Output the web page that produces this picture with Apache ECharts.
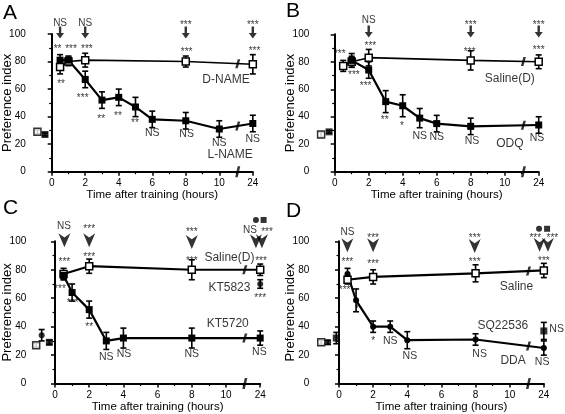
<!DOCTYPE html>
<html><head><meta charset="utf-8">
<script src="https://cdn.jsdelivr.net/npm/echarts@6/dist/echarts.min.js"></script>
<style>html,body{margin:0;padding:0;background:#fff}#c{width:565px;height:414px}</style>
</head><body><div id="c"></div><script>
// ===== DATA (time in hours; values = preference index, E = error) =====
// Panel A
const A_DNAME_T = [0.5, 1, 2, 8, 24];
const A_DNAME_V = [76, 80, 81, 80, 78];
const A_DNAME_E = [5, 3, 5, 4, 7];
const A_LNAME_T = [0.5, 1, 2, 3, 4, 5, 6, 8, 10, 24];
const A_LNAME_V = [81, 81, 67, 52, 54, 47, 38, 37, 31, 35];
const A_LNAME_E = [4, 3, 6, 6, 6, 7, 6, 6, 6, 6];
const A_BASE_V = [29, 27];
const A_BASE_E = [1.5, 1];
// Panel B
const B_SAL_T = [0.5, 1, 2, 8, 24];
const B_SAL_V = [77, 80, 83, 81, 80];
const B_SAL_E = [4, 4, 6, 7, 5];
const B_ODQ_T = [1, 2, 3, 4, 5, 6, 8, 24];
const B_ODQ_V = [81, 74, 51, 48, 39, 35, 33, 34];
const B_ODQ_E = [5, 6, 8, 8, 7, 6, 6, 6];
const B_BASE_V = [27, 29];
const B_BASE_E = [2, 1];
// Panel C
const C_SAL_T = [0.5, 2, 8, 24];
const C_SAL_V = [77, 82.5, 80, 80];
const C_SAL_E = [4, 5, 7, 4];
const C_KT5720_T = [0.5, 1, 2, 3, 4, 8, 24];
const C_KT5720_V = [76, 64, 52, 30, 32, 32, 32];
const C_KT5720_E = [3, 6, 6, 6, 7, 7, 5];
const C_KT5823_T = [24];
const C_KT5823_V = [70];
const C_KT5823_E = [3];
const C_BASE_V = [27, 34, 29];
const C_BASE_E = [1.5, 4, 1.5];
// Panel D
const D_SAL_T = [0.5, 2, 8, 24];
const D_SAL_V = [73, 75, 77.5, 79.5];
const D_SAL_E = [3, 5, 6, 5];
const D_DDA_T = [0.5, 1, 2, 3, 4, 8, 24];
const D_DDA_V = [77, 58.5, 40, 40, 30.5, 31, 25];
const D_DDA_E = [4, 8, 4, 4, 6, 4, 5];
const D_SQ_T = [24];
const D_SQ_V = [37];
const D_SQ_E = [6];
const D_BASE_V = [29, 29, 32];
const D_BASE_E = [1.5, 1.5, 4];
// Tick labels
const X_TICKS = [0, 2, 4, 6, 8, 10, 24];
const Y_TICKS = [0, 20, 40, 60, 80, 100];

// ===== helpers =====
const FONT = '"Liberation Sans", Arial, Helvetica, sans-serif';
const pos = t => t === 24 ? 12 : t;           // broken axis: 24 h drawn after 10 h
const BREAK_X = 11.1;
const SYM = {
  open:   {symbol: 'rect', symbolSize: 7, itemStyle: {color: '#fff', borderColor: '#000', borderWidth: 1.5}},
  filled: {symbol: 'rect', symbolSize: 7, itemStyle: {color: '#000'}},
  circle: {symbol: 'circle', symbolSize: 6, itemStyle: {color: '#000'}}
};
const ARROW = 'path://M3.5,0 L6.5,0 L6.5,7 L10,7 L5,13 L0,7 L3.5,7 Z';
const CHEV = 'path://M0,0 L5,4 L10,0 L5,13 Z';
const SLASH = 'path://M3,0 L6,0 L3,10 L0,10 Z';

function interpAt(T, V, x) {
  const P = T.map(pos);
  for (let i = 0; i < P.length - 1; i++) {
    if (P[i] <= x && x <= P[i + 1]) { const f = (x - P[i]) / (P[i + 1] - P[i]); return V[i] + f * (V[i + 1] - V[i]); }
  }
  return null;
}
function errRender(params, api) {
  const x = api.value(0), y = api.value(1), e = api.value(2);
  const t = api.coord([x, y + e]), b = api.coord([x, y - e]);
  const w = 3, st = {stroke: '#000', lineWidth: 1.6};
  return {type: 'group', children: [
    {type: 'line', shape: {x1: t[0], y1: t[1], x2: b[0], y2: b[1]}, style: st},
    {type: 'line', shape: {x1: t[0] - w, y1: t[1], x2: t[0] + w, y2: t[1]}, style: st},
    {type: 'line', shape: {x1: b[0] - w, y1: b[1], x2: b[0] + w, y2: b[1]}, style: st}
  ]};
}

// ===== layout / annotations =====
const panels = [
  {letter: 'A', lx: 3, ly: 3, X0: 51.7, U: 16.76, top: 34, bottom: 171.7, yAx: 31.8,
   groups: [
     {T: A_DNAME_T, V: A_DNAME_V, E: A_DNAME_E, sym: 'open', lw: 1.6, line: true},
     {T: A_LNAME_T, V: A_LNAME_V, E: A_LNAME_E, sym: 'filled', lw: 2.2, line: true}],
   base: [{x: -0.85, sym: 'open'}, {x: -0.4, sym: 'filled'}], baseV: A_BASE_V, baseE: A_BASE_E,
   arrowSym: ARROW, arrowSize: [8, 12],
   arrows: [[0.5, 101], [2, 101], [8, 101], [12, 101]],
   dots: [],
   texts: [['NS', 0.5, 108, 'top'], ['NS', 2, 108, 'top'], ['***', 8, 108, 'st'], ['***', 12, 108, 'st'],
     ['**', 0.35, 91, 'st'], ['***', 1.15, 91, 'st'], ['***', 2.1, 91, 'st'], ['***', 8.05, 88.5, 'st'], ['***', 12.1, 89, 'st'],
     ['**', 0.56, 65, 'st'], ['***', 1.85, 55, 'st'], ['**', 2.95, 40, 'st'], ['**', 3.95, 42, 'st'], ['**', 4.97, 37, 'st'],
     ['NS', 6, 28, 'ns'], ['NS', 8.05, 27, 'ns'], ['NS', 10, 21, 'ns'], ['NS', 12, 23.5, 'ns'],
     ['D-NAME', 10.4, 67, 'lab'], ['L-NAME', 10.65, 12, 'lab']]},
  {letter: 'B', lx: 286, ly: 1, X0: 334.7, U: 17.0, top: 34.3, bottom: 171.7, yAx: 315.3,
   groups: [
     {T: B_SAL_T, V: B_SAL_V, E: B_SAL_E, sym: 'open', lw: 1.6, line: true},
     {T: B_ODQ_T, V: B_ODQ_V, E: B_ODQ_E, sym: 'filled', lw: 2.2, line: true}],
   base: [{x: -0.8, sym: 'open'}, {x: -0.33, sym: 'filled'}], baseV: B_BASE_V, baseE: B_BASE_E,
   arrowSym: ARROW, arrowSize: [8, 12],
   arrows: [[2, 102], [8, 102], [12, 102]],
   dots: [],
   texts: [['NS', 2, 110, 'top'], ['***', 8, 108.5, 'st'], ['***', 12, 108.5, 'st'],
     ['***', 0.3, 87, 'st'], ['***', 1.13, 72, 'st'], ['***', 1.82, 64.3, 'st'], ['***', 2.1, 93, 'st'],
     ['**', 2.94, 39, 'st'], ['*', 3.96, 35, 'st'],
     ['NS', 5, 26, 'ns'], ['NS', 6, 25, 'ns'], ['NS', 8.08, 22, 'ns'], ['ODQ', 10.3, 20.6, 'lab'], ['NS', 11.9, 24.3, 'ns'],
     ['***', 7.94, 89, 'st'], ['***', 12, 90, 'st'], ['Saline(D)', 10.3, 68, 'lab']]},
  {letter: 'C', lx: 3, ly: 198, X0: 55, U: 17.1, top: 241.3, bottom: 383.6, yAx: 32.3,
   groups: [
     {T: C_SAL_T, V: C_SAL_V, E: C_SAL_E, sym: 'open', lw: 2.2, line: true},
     {T: C_KT5720_T, V: C_KT5720_V, E: C_KT5720_E, sym: 'filled', lw: 2.2, line: true},
     {T: C_KT5823_T, V: C_KT5823_V, E: C_KT5823_E, sym: 'circle', lw: 2, line: false}],
   base: [{x: -1.1, sym: 'open'}, {x: -0.78, sym: 'circle'}, {x: -0.33, sym: 'filled'}], baseV: C_BASE_V, baseE: C_BASE_E,
   arrowSym: CHEV, arrowSize: [12, 14],
   arrows: [[0.55, 100.7], [2, 100.7], [8, 99.5], [11.75, 100], [12.1, 100]],
   dots: [[11.75, 115, 'circle'], [12.2, 115, 'filled']],
   texts: [['NS', 0.53, 110.7, 'top'], ['***', 2, 110, 'st'], ['***', 8, 108, 'st'],
     ['NS', 11.4, 108, 'top'], ['***', 12.4, 108, 'st'],
     ['***', 0.55, 87, 'st'], ['***', 2, 90.8, 'st'], ['***', 8, 87.8, 'st'], ['Saline(D)', 10.2, 88.5, 'lab'], ['***', 12.05, 87.8, 'st'],
     ['KT5823', 10.2, 67.4, 'lab'], ['***', 12, 61.4, 'st'], ['KT5720', 10.1, 42, 'lab'],
     ['***', 0.29, 68, 'st'], ['***', 1.03, 58, 'st'], ['**', 2, 41.7, 'st'],
     ['NS', 3, 18.3, 'ns'], ['NS', 4.04, 21, 'ns'], ['NS', 8, 21, 'ns'], ['NS', 11.95, 22.3, 'ns']]},
  {letter: 'D', lx: 286, ly: 201, X0: 339, U: 17.07, top: 241.3, bottom: 383.6, yAx: 315.3,
   groups: [
     {T: D_SAL_T, V: D_SAL_V, E: D_SAL_E, sym: 'open', lw: 2.2, line: true},
     {T: D_DDA_T, V: D_DDA_V, E: D_DDA_E, sym: 'circle', lw: 2.2, line: true},
     {T: D_SQ_T, V: D_SQ_V, E: D_SQ_E, sym: 'filled', lw: 2, line: false}],
   base: [{x: -1.04, sym: 'open'}, {x: -0.64, sym: 'circle'}, {x: -0.16, sym: 'filled'}], baseV: D_BASE_V, baseE: D_BASE_E,
   arrowSym: CHEV, arrowSize: [12, 14],
   arrows: [[0.49, 97.2], [2, 97.2], [7.95, 96.7], [11.75, 97.5], [12.24, 97.5]],
   dots: [[11.72, 108.8, 'circle'], [12.19, 108.8, 'filled']],
   texts: [['NS', 0.49, 106.5, 'top'], ['***', 2, 104, 'st'], ['***', 7.95, 104, 'st'],
     ['***', 11.5, 104.2, 'st'], ['***', 12.5, 104.2, 'st'],
     ['***', 0.49, 87, 'st'], ['***', 2, 85.5, 'st'], ['***', 7.95, 87, 'st'], ['***', 12, 87.8, 'st'],
     ['***', 0.33, 67.2, 'st'], ['*', 1.05, 54, 'st'], ['*', 2, 31.6, 'st'],
     ['NS', 3, 30, 'ns'], ['NS', 4.15, 19, 'ns'], ['NS', 8.24, 21, 'ns'],
     ['Saline', 10.4, 68.4, 'lab'], ['SQ22536', 9.6, 41, 'lab'], ['NS', 12.75, 38.6, 'ns'],
     ['DDA', 10.2, 16.4, 'lab'], ['NS', 11.9, 15.2, 'ns']]}
];

const FS = {top: 10, st: 10, ns: 10.5, lab: 12};
const grids = [], xAxes = [], yAxes = [], series = [], graphics = [];
const XMAX = 12.8;

panels.forEach((p, i) => {
  const h = p.bottom - p.top;
  grids[i] = {left: p.yAx, top: p.top, width: p.X0 + XMAX * p.U - p.yAx, height: h, outerBoundsMode: 'none'};
  grids[i + 4] = {left: p.X0, top: p.top, width: 12 * p.U, height: h, outerBoundsMode: 'none'};
  xAxes[i] = {gridIndex: i, type: 'value', min: (p.yAx - p.X0) / p.U, max: XMAX, show: false};
  yAxes[i] = {gridIndex: i, type: 'value', min: 0, max: 100, interval: 20,
    axisLine: {show: true, lineStyle: {color: '#000', width: 2}},
    axisTick: {show: true, length: 4, lineStyle: {color: '#000', width: 1.5}},
    minorTick: {show: true, splitNumber: 2, length: 2.5, lineStyle: {color: '#000', width: 1.2}},
    splitLine: {show: false},
    axisLabel: {color: '#000', fontSize: 10, fontFamily: FONT, margin: 6,
      formatter: v => Y_TICKS.includes(v) ? String(v) : ''},
    name: 'Preference index', nameLocation: 'middle', nameGap: 18, nameMoveOverlap: false,
    nameTextStyle: {color: '#000', fontSize: 13, fontFamily: FONT}};
  xAxes[i + 4] = {gridIndex: i + 4, type: 'value', min: 0, max: 12, interval: 2,
    axisLine: {show: true, lineStyle: {color: '#000', width: 2}},
    axisTick: {show: true, length: 4, lineStyle: {color: '#000', width: 1.5}},
    minorTick: {show: true, splitNumber: 2, length: 2.5, lineStyle: {color: '#000', width: 1.2}},
    splitLine: {show: false},
    axisLabel: {color: '#000', fontSize: 10, fontFamily: FONT, margin: 7,
      formatter: v => { const k = Math.round(v / 2); return (Math.abs(v - k * 2) < 1e-6 && X_TICKS[k] !== undefined) ? String(X_TICKS[k]) : ''; }},
    name: 'Time after training (hours)', nameLocation: 'middle', nameGap: 17, nameMoveOverlap: false,
    nameTextStyle: {color: '#000', fontSize: 11.5, fontFamily: FONT}};
  yAxes[i + 4] = {gridIndex: i + 4, type: 'value', min: 0, max: 100, show: false};

  const ax = {xAxisIndex: i, yAxisIndex: i};
  p.groups.forEach(g => {
    const s = SYM[g.sym];
    series.push(Object.assign({type: 'custom', renderItem: errRender, encode: {x: 0, y: 1}, clip: false, silent: true, z: 2,
      data: g.T.map((t, k) => [pos(t), g.V[k], g.E[k]])}, ax));
    series.push(Object.assign({type: g.line ? 'line' : 'scatter', symbol: s.symbol, symbolSize: s.symbolSize,
      itemStyle: s.itemStyle, showSymbol: true, lineStyle: {color: '#000', width: g.lw}, clip: false, silent: true, z: 3,
      data: g.T.map((t, k) => [pos(t), g.V[k]])}, ax));
    if (g.line) {
      const yb = interpAt(g.T, g.V, BREAK_X);
      if (yb !== null) series.push(Object.assign({type: 'scatter', symbol: SLASH, symbolSize: [5, 9],
        itemStyle: {color: '#000'}, silent: true, clip: false, z: 4, data: [[BREAK_X, yb]]}, ax));
    }
  });
  p.base.forEach((b, k) => {
    const s = SYM[b.sym];
    series.push(Object.assign({type: 'custom', renderItem: errRender, encode: {x: 0, y: 1}, clip: false, silent: true, z: 2,
      data: [[b.x, p.baseV[k], p.baseE[k]]]}, ax));
    series.push(Object.assign({type: 'scatter', symbol: s.symbol, symbolSize: s.symbolSize, itemStyle: s.itemStyle,
      clip: false, silent: true, z: 3, data: [[b.x, p.baseV[k]]]}, ax));
  });
  series.push({type: 'scatter', xAxisIndex: i + 4, yAxisIndex: i + 4, symbol: SLASH, symbolSize: [5, 11],
    itemStyle: {color: '#000'}, silent: true, clip: false, z: 4, data: [[BREAK_X, 0]]});
  series.push(Object.assign({type: 'scatter', symbol: p.arrowSym, symbolSize: p.arrowSize, symbolKeepAspect: false,
    itemStyle: {color: '#000'}, silent: true, clip: false, z: 4, data: p.arrows}, ax));
  p.dots.forEach(d => {
    const s = SYM[d[2]];
    series.push(Object.assign({type: 'scatter', symbol: s.symbol, symbolSize: 6, itemStyle: {color: '#000'},
      silent: true, clip: false, z: 4, data: [[d[0], d[1]]]}, ax));
  });
  series.push(Object.assign({type: 'scatter', symbolSize: 0, silent: true, clip: false, z: 5,
    label: {show: true, position: 'inside', color: '#000', fontFamily: FONT},
    data: p.texts.map(([t, x, y, k]) => ({value: [x, y],
      label: {formatter: t, fontSize: FS[k], offset: k === 'st' ? [0, 2.5] : [0, 0]}}))}, ax));
  graphics.push({type: 'text', left: p.lx, top: p.ly, style: {text: p.letter, fontSize: 21, fontFamily: FONT, fill: '#000'}});
});

const chart = echarts.init(document.getElementById('c'), null, {renderer: 'canvas'});
chart.setOption({animation: false, backgroundColor: '#fff', grid: grids, xAxis: xAxes, yAxis: yAxes, series, graphic: graphics});
</script></body></html>
